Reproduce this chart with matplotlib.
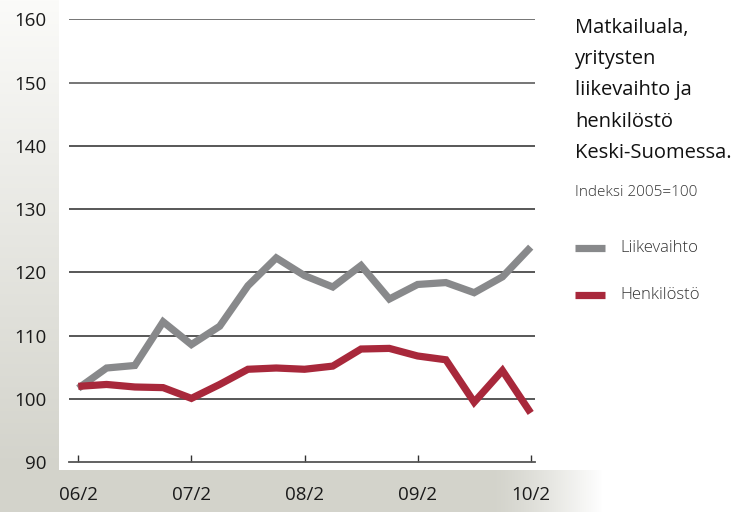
import numpy as np
import matplotlib
matplotlib.use("Agg")
import matplotlib.pyplot as plt
from matplotlib.colors import to_rgb

plt.rcParams['font.family'] = ['Open Sans', 'DejaVu Sans']

# ---- data ----
quarters = ["06/2", "06/3", "06/4", "07/1", "07/2", "07/3", "07/4", "08/1", "08/2",
            "08/3", "08/4", "09/1", "09/2", "09/3", "09/4", "10/1", "10/2"]
liikevaihto = [101.7, 104.9, 105.3, 112.2, 108.6, 111.5, 117.9, 122.3, 119.5,
               117.7, 121.1, 115.8, 118.1, 118.4, 116.8, 119.3, 124.0]
henkilosto = [102.0, 102.3, 101.9, 101.8, 100.1, 102.3, 104.7, 104.9, 104.7,
              105.2, 107.9, 108.0, 106.8, 106.2, 99.5, 104.5, 97.8]
xtick_labels = ["06/2", "07/2", "08/2", "09/2", "10/2"]
yticks = [90, 100, 110, 120, 130, 140, 150, 160]
title_lines = ["Matkailuala,", "yritysten", "liikevaihto ja", "henkilöstö", "Keski-Suomessa."]
subtitle = "Indeksi 2005=100"
series_names = ["Liikevaihto", "Henkilöstö"]

GRAY = "#88898b"
RED = "#a8283b"

W, H = 745, 512
fig = plt.figure(figsize=(W / 100, H / 100), dpi=100)

# ---- background panels ----
bg = fig.add_axes([0, 0, 1, 1], zorder=0)
bg.set_xlim(0, W)
bg.set_ylim(H, 0)
bg.axis("off")
img = np.ones((H, W, 3))
c_dark = np.array(to_rgb("#d3d3cb"))
c_top = np.array(to_rgb("#fbfbf9"))
# left panel: vertical gradient
ys = np.linspace(0, 1, 470)[:, None]
img[0:470, 0:59, :] = (c_top * (1 - ys) + c_dark * ys)[:, None, :]
# bottom panel: horizontal fade at right
xs = np.arange(W)
t = np.clip((xs - 490) / (602 - 490), 0, 1) ** 1.3
row = c_dark[None, :] * (1 - t[:, None]) + np.ones(3)[None, :] * t[:, None]
img[470:H, :, :] = row[None, :, :]
bg.imshow(img, extent=(0, W, H, 0), aspect="auto", interpolation="bilinear")

# ---- main axes ----
left, right = 69 / W, 535 / W
bottom, top = (H - 462.3) / H, (H - 19.3) / H
ax = fig.add_axes([left, bottom, right - left, top - bottom], zorder=2)
ax.patch.set_alpha(0)
x = np.arange(len(quarters))
step = (530.7 - 78.3) / 16
ax.set_xlim(-(78.3 - 69) / step, 16 + (535 - 530.7) / step)
ax.set_ylim(90, 160)

for yv in yticks[1:]:
    col = "#6a6a6a" if yv >= 150 else "#4a4a4a"
    ax.axhline(yv, color=col, lw=1.3, zorder=1)

ax.plot(x, liikevaihto, color=GRAY, lw=5.2, solid_joinstyle="miter",
        solid_capstyle="butt", zorder=3)
ax.plot(x, henkilosto, color=RED, lw=5.2, solid_joinstyle="miter",
        solid_capstyle="butt", zorder=4)

for s in ["top", "right", "left"]:
    ax.spines[s].set_visible(False)
ax.spines["bottom"].set_color("#555555")
ax.spines["bottom"].set_linewidth(1.3)

tick_pos = [quarters.index(l) for l in xtick_labels]
ax.set_xticks(tick_pos)
ax.set_xticklabels(xtick_labels)
ax.tick_params(axis="x", direction="in", length=5, width=1, color="#333333",
               pad=17, labelsize=13.5, labelcolor="#1a1a1a")
ax.set_yticks(yticks)
ax.set_yticklabels([str(v) for v in yticks])
ax.tick_params(axis="y", length=0, pad=16, labelsize=13.5, labelcolor="#1a1a1a")

# ---- title & legend text ----
tx = 575
for i, line in enumerate(title_lines):
    fig.text(tx / W, 1 - (33 + i * 31.2) / H, line, fontsize=14.5, color="#111111",
             ha="left", va="baseline")
fig.text(tx / W, 1 - 192 / H, subtitle, fontsize=11, color="#333333",
         ha="left", va="center", fontweight="light")
for i, (name, col) in enumerate(zip(series_names, [GRAY, RED])):
    yy = 248 + i * 47
    fig.add_artist(plt.Line2D([575 / W, 605 / W], [1 - yy / H, 1 - yy / H],
                              color=col, lw=5.2, solid_capstyle="butt"))
    fig.text(620 / W, 1 - yy / H, name, fontsize=12, color="#333333",
             ha="left", va="center", fontweight="light")

fig.savefig("out.png", dpi=100)
